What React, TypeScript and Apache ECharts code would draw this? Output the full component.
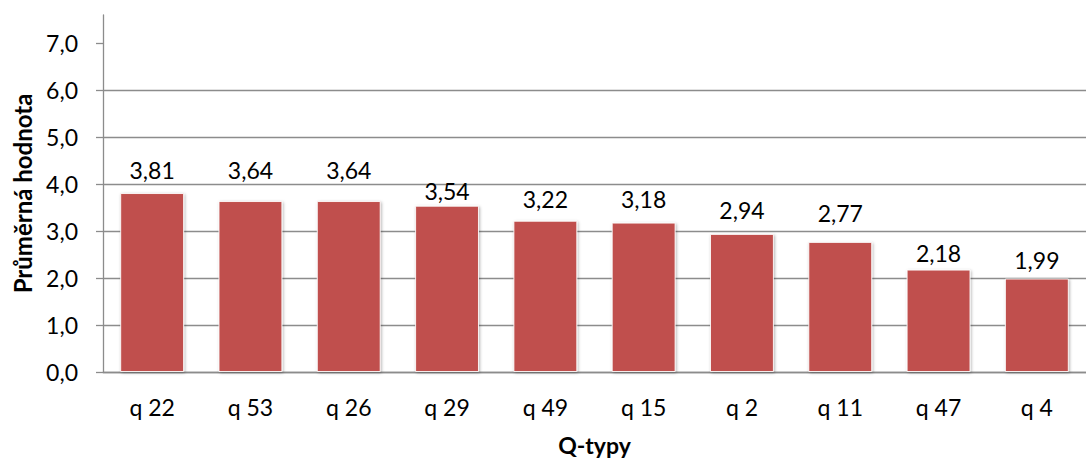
import React, { useEffect, useRef } from "react";
import * as echarts from "echarts";

// Question types and their mean values
const categories = ["q 22", "q 53", "q 26", "q 29", "q 49", "q 15", "q 2", "q 11", "q 47", "q 4"];
const meanValues = [3.81, 3.64, 3.64, 3.54, 3.22, 3.18, 2.94, 2.77, 2.18, 1.99];
const yTicks = [0, 1, 2, 3, 4, 5, 6, 7];

// Gap between each bar top and its value label (px)
const labelDistances = [12, 20, 20, 3, 10, 12, 12, 17, 5, 7];

const FONT = "Lato, 'Open Sans', sans-serif";
const fmt = (v: number, d: number) => v.toFixed(d).replace(".", ",");

export default function App() {
  const ref = useRef<HTMLDivElement>(null);

  useEffect(() => {
    if (!ref.current) return;
    const chart = echarts.init(ref.current, undefined, { renderer: "svg" });
    chart.setOption({
      animation: false,
      backgroundColor: "#ffffff",
      grid: { left: 103, right: -10, top: 15, bottom: 87 },
      xAxis: {
        type: "category",
        data: categories,
        boundaryGap: true,
        name: "Q-typy",
        nameLocation: "middle",
        nameGap: 61,
        nameTextStyle: { fontFamily: FONT, fontSize: 23, fontWeight: "bold", color: "#000" },
        axisLine: { show: true, lineStyle: { color: "#8c8c8c", width: 1.3 } },
        axisTick: { show: false },
        axisLabel: { fontFamily: FONT, fontSize: 23, color: "#000", margin: 23 },
        splitLine: { show: false },
      },
      yAxis: {
        type: "value",
        min: 0,
        max: 7.6,
        interval: 1,
        name: "Průměrná hodnota",
        nameLocation: "middle",
        nameGap: 69,
        nameRotate: 90,
        nameTextStyle: { fontFamily: FONT, fontSize: 24, fontWeight: "bold", color: "#000" },
        axisLine: { show: true, lineStyle: { color: "#8c8c8c", width: 1.3 } },
        axisTick: {
          show: true,
          length: 7,
          customValues: yTicks,
          lineStyle: { color: "#8c8c8c", width: 1.3 },
        },
        axisLabel: {
          fontFamily: FONT,
          fontSize: 23,
          color: "#000",
          margin: 25,
          customValues: yTicks,
          formatter: (v: number) => fmt(v, 1),
        },
        splitLine: {
          show: true,
          showMaxLine: false,
          lineStyle: { color: "#8c8c8c", width: 1.3 },
        },
      },
      series: [
        {
          type: "bar",
          barWidth: "65%",
          data: meanValues.map((v, i) => ({
            value: v,
            label: { distance: labelDistances[i] },
          })),
          itemStyle: {
            color: "#c0504d",
            borderColor: "rgba(255,255,255,0.85)",
            borderWidth: 1,
            shadowBlur: 3,
            shadowColor: "rgba(0,0,0,0.3)",
            shadowOffsetX: 1,
            shadowOffsetY: 1,
          },
          label: {
            show: true,
            position: "top",
            fontFamily: FONT,
            fontSize: 23,
            color: "#000",
            formatter: (p: any) => fmt(p.value, 2),
          },
        },
      ],
    });
    return () => chart.dispose();
  }, []);

  return (
    <div
      ref={ref}
      style={{ position: "fixed", left: 0, top: 0, width: 1086, height: 461 }}
    />
  );
}
